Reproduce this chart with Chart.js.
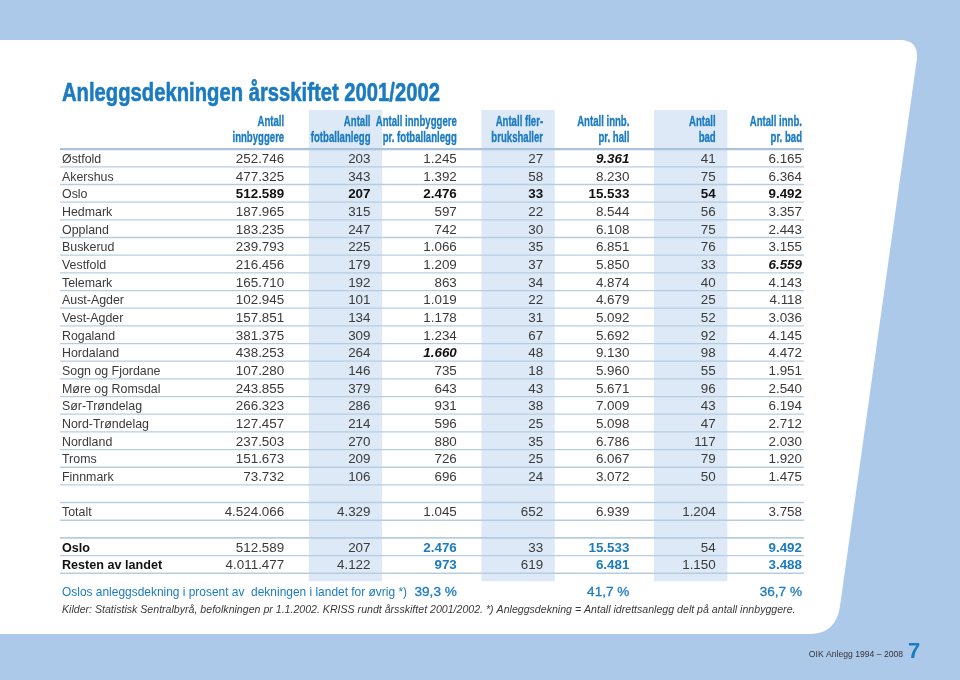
<!DOCTYPE html>
<html>
<head>
<meta charset="utf-8">
<script src="https://cdn.jsdelivr.net/npm/chart.js@4.4.1/dist/chart.umd.min.js"></script>
<style>
html, body { margin: 0; padding: 0; background: #adc9e9; }
#wrap { width: 960px; height: 680px; }
</style>
</head>
<body>
<div id="wrap"><canvas id="tabell" width="960" height="680"></canvas></div>
<script>
// Table data
var regions = ["Østfold", "Akershus", "Oslo", "Hedmark", "Oppland", "Buskerud", "Vestfold", "Telemark",
	"Aust-Agder", "Vest-Agder", "Rogaland", "Hordaland", "Sogn og Fjordane", "Møre og Romsdal",
	"Sør-Trøndelag", "Nord-Trøndelag", "Nordland", "Troms", "Finnmark"];
var innbyggere = [252746, 477325, 512589, 187965, 183235, 239793, 216456, 165710, 102945, 157851,
	381375, 438253, 107280, 243855, 266323, 127457, 237503, 151673, 73732];
var fotballanlegg = [203, 343, 207, 315, 247, 225, 179, 192, 101, 134, 309, 264, 146, 379, 286, 214, 270, 209, 106];
var innbPerFotball = [1245, 1392, 2476, 597, 742, 1066, 1209, 863, 1019, 1178, 1234, 1660, 735, 643, 931, 596, 880, 726, 696];
var flerbrukshaller = [27, 58, 33, 22, 30, 35, 37, 34, 22, 31, 67, 48, 18, 43, 38, 25, 35, 25, 24];
var innbPerHall = [9361, 8230, 15533, 8544, 6108, 6851, 5850, 4874, 4679, 5092, 5692, 9130, 5960, 5671, 7009, 5098, 6786, 6067, 3072];
var bad = [41, 75, 54, 56, 75, 76, 33, 40, 25, 52, 92, 98, 55, 96, 43, 47, 117, 79, 50];
var innbPerBad = [6165, 6364, 9492, 3357, 2443, 3155, 6559, 4143, 4118, 3036, 4145, 4472, 1951, 2540, 6194, 2712, 2030, 1920, 1475];

var headers = [["Antall", "innbyggere"], ["Antall", "fotballanlegg"], ["Antall innbyggere", "pr. fotballanlegg"],
	["Antall fler-", "brukshaller"], ["Antall innb.", "pr. hall"], ["Antall", "bad"], ["Antall innb.", "pr. bad"]];
var totalt = [4524066, 4329, 1045, 652, 6939, 1204, 3758];
var osloRad = [512589, 207, 2476, 33, 15533, 54, 9492];
var restenRad = [4011477, 4122, 973, 619, 6481, 1150, 3488];
var prosentOslo = ["39,3 %", "41,7 %", "36,7 %"]; // under the "pr." columns

var title = "Anleggsdekningen årsskiftet 2001/2002";
var prosentTekst = "Oslos anleggsdekning i prosent av  dekningen i landet for øvrig *)";
var kilder = "Kilder: Statistisk Sentralbyrå, befolkningen pr 1.1.2002. KRISS rundt årsskiftet 2001/2002. *) Anleggsdekning = Antall idrettsanlegg delt på antall innbyggere.";
var footer = "OIK Anlegg 1994 – 2008";
var pageNo = "7";

var columns = [innbyggere, fotballanlegg, innbPerFotball, flerbrukshaller, innbPerHall, bad, innbPerBad];
var shaded = [1, 3, 5];

// layout
var ROW_H = 17.67, FIRST_Y = 158, YMIN = -8, YMAX = 29;
var COL_W = 86.3, COL0 = 259.2;
var padLeft = COL0 - COL_W / 2;
var padRight = 960 - (padLeft + 7 * COL_W);
var padTop = FIRST_Y + YMIN * ROW_H;
var padBottom = 680 - (FIRST_Y + YMAX * ROW_H);
var LEFT = 62;
var BLUE = "#1b7bc0", TXT = "#3a3a3a", RULE = "#b6cde1";
var HEAD_FONT = "bold 15px 'Liberation Sans Narrow', 'Liberation Sans', sans-serif";

function fmt(n) { return String(n).replace(/\B(?=(\d{3})+(?!\d))/g, "."); }

function txt(ctx, s, x, y, font, color, align, sx, heavy) {
	ctx.save();
	ctx.font = font;
	ctx.fillStyle = color;
	ctx.textAlign = align || "left";
	ctx.textBaseline = "alphabetic";
	ctx.translate(x, y);
	if (sx) ctx.scale(sx, 1);
	ctx.fillText(s, 0, 0);
	if (heavy) {
		ctx.strokeStyle = color;
		ctx.lineWidth = heavy;
		ctx.strokeText(s, 0, 0);
	}
	ctx.restore();
}

function widthOf(ctx, s, font) {
	ctx.save();
	ctx.font = font;
	var w = ctx.measureText(s).width;
	ctx.restore();
	return w;
}

// highest value outside Oslo is set in bold italic
function maxOutsideOslo(arr) {
	var best = -1;
	for (var i = 0; i < arr.length; i++) {
		if (regions[i] == "Oslo") continue;
		if (best < 0 || arr[i] > arr[best]) best = i;
	}
	return best;
}
var fremhev = {};
[2, 4, 6].forEach(function (c) { fremhev[c] = maxOutsideOslo(columns[c]); });

var lastRow = regions.length - 1;
var shadeData = headers.map(function (h, i) {
	return shaded.indexOf(i) >= 0 ? [-2.72, lastRow + 5.95] : null;
});

var pagePlugin = {
	id: "page",
	beforeDraw: function (chart) {
		var ctx = chart.ctx;
		ctx.save();
		ctx.fillStyle = "#adc9e9";
		ctx.fillRect(0, 0, 960, 680);
		ctx.fillStyle = "#ffffff";
		ctx.beginPath();
		ctx.moveTo(0, 40);
		ctx.lineTo(900, 40);
		ctx.quadraticCurveTo(918, 40, 917, 58);
		ctx.lineTo(840, 606);
		ctx.quadraticCurveTo(836, 634, 810, 634);
		ctx.lineTo(0, 634);
		ctx.closePath();
		ctx.fill();
		ctx.restore();
	},
	afterDatasetsDraw: function (chart) {
		var ctx = chart.ctx;
		var xs = chart.scales.x, ys = chart.scales.y;
		var right = function (c) { return xs.getPixelForValue(c) + 25; };
		var lineR = right(6) + 2;

		function rule(row, w, color) {
			var y = ys.getPixelForValue(row);
			ctx.save();
			ctx.strokeStyle = color || RULE;
			ctx.lineWidth = w || 1.3;
			ctx.beginPath();
			ctx.moveTo(LEFT - 2, y);
			ctx.lineTo(lineR, y);
			ctx.stroke();
			ctx.restore();
		}

		// title and headers
		var y0 = ys.getPixelForValue(0);
		var titleFont = "bold 26px 'Liberation Sans Narrow', 'Liberation Sans', sans-serif";
		txt(ctx, title, LEFT, y0 - 57, titleFont, BLUE, "left", 378 / widthOf(ctx, title, titleFont), 0.6);
		headers.forEach(function (h, c) {
			txt(ctx, h[0], right(c), y0 - 32.5, HEAD_FONT, BLUE, "right", 0.64, 0.35);
			txt(ctx, h[1], right(c), y0 - 16.5, HEAD_FONT, BLUE, "right", 0.64, 0.35);
		});

		rule(-0.5, 2.4, "#aac3da");
		var nameFont = "12.4px 'Liberation Sans', Arial, sans-serif";
		var numFont = "13.4px 'Liberation Sans', Arial, sans-serif";
		for (var r = 0; r < regions.length; r++) {
			var yb = ys.getPixelForValue(r) + 5;
			var isOslo = regions[r] == "Oslo";
			txt(ctx, regions[r], LEFT, yb, nameFont, TXT);
			for (var c = 0; c < columns.length; c++) {
				var f = numFont, col = TXT;
				if (isOslo) { f = "bold " + numFont; col = "#111"; }
				else if (fremhev[c] === r) { f = "italic bold " + numFont; col = "#111"; }
				txt(ctx, fmt(columns[c][r]), right(c), yb, f, col, "right");
			}
			rule(r + 0.5);
		}

		// totals
		var rt = lastRow + 2;
		rule(rt - 0.5, 1.6);
		txt(ctx, "Totalt", LEFT, ys.getPixelForValue(rt) + 5, nameFont, TXT);
		totalt.forEach(function (v, c) { txt(ctx, fmt(v), right(c), ys.getPixelForValue(rt) + 5, numFont, TXT, "right"); });
		rule(rt + 0.5);

		var ro = rt + 2;
		rule(ro - 0.5, 1.6);
		[["Oslo", osloRad], ["Resten av landet", restenRad]].forEach(function (p, k) {
			var yb = ys.getPixelForValue(ro + k) + 5;
			txt(ctx, p[0], LEFT, yb, "bold 12.6px 'Liberation Sans', Arial, sans-serif", "#111");
			p[1].forEach(function (v, c) {
				var pr = c % 2 == 0 && c > 0;
				txt(ctx, fmt(v), right(c), yb, pr ? "bold " + numFont : numFont, pr ? BLUE : TXT, "right");
			});
			rule(ro + k + 0.5);
		});

		var yp = ys.getPixelForValue(ro + 2.5) + 5;
		var pFont = "13.2px 'Liberation Sans', Arial, sans-serif";
		txt(ctx, prosentTekst, LEFT, yp, pFont, BLUE, "left", 345 / widthOf(ctx, prosentTekst, pFont));
		prosentOslo.forEach(function (s, k) { txt(ctx, s, right(2 + 2 * k), yp, "13.6px 'Liberation Sans', Arial, sans-serif", BLUE, "right", 0, 0.3); });
		txt(ctx, kilder, LEFT, ys.getPixelForValue(ro + 3.5) + 4, "italic 10.6px 'Liberation Sans', Arial, sans-serif", TXT);

		txt(ctx, footer, 903, 657, "8.6px 'Liberation Sans', Arial, sans-serif", "#333", "right");
		txt(ctx, pageNo, 908, 658, "bold 22px 'Liberation Sans', Arial, sans-serif", BLUE);
	}
};

new Chart(document.getElementById("tabell"), {
	type: "bar",
	data: {
		labels: headers.map(function (h) { return h.join(" "); }),
		datasets: [{
			data: shadeData,
			backgroundColor: "#dde9f6",
			borderWidth: 0,
			barPercentage: 1,
			categoryPercentage: 0.85
		}]
	},
	options: {
		responsive: false,
		animation: false,
		events: [],
		layout: { padding: { left: padLeft, right: padRight, top: padTop, bottom: padBottom } },
		plugins: { legend: { display: false }, tooltip: { enabled: false }, title: { display: false } },
		scales: {
			x: { type: "category", display: false, offset: true },
			y: { type: "linear", display: false, reverse: true, min: YMIN, max: YMAX }
		}
	},
	plugins: [pagePlugin]
});
</script>
</body>
</html>
